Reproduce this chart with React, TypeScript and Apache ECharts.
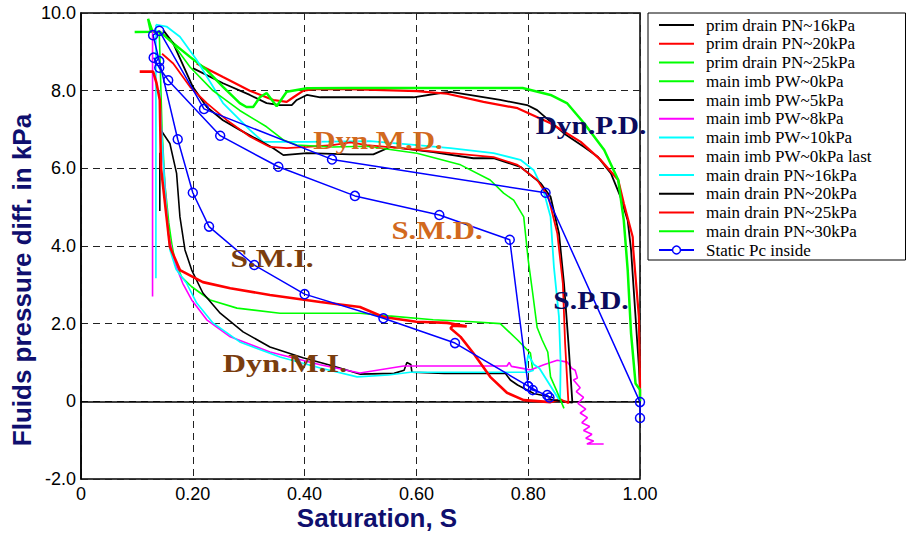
import React, { useEffect, useRef } from "react";
import * as echarts from "echarts";

type P = [number, number | string];

const seriesNames = [
  "prim drain PN~16kPa",
  "prim drain PN~20kPa",
  "prim drain PN~25kPa",
  "main imb PW~0kPa",
  "main imb PW~5kPa",
  "main imb PW~8kPa",
  "main imb PW~10kPa",
  "main imb PW~0kPa last",
  "main drain PN~16kPa",
  "main drain PN~20kPa",
  "main drain PN~25kPa",
  "main drain PN~30kPa",
  "Static Pc inside",
];

const seriesColors = [
  "#000000", "#ff0000", "#00ff00", "#00ff00", "#000000", "#ff00ff", "#00ffff",
  "#ff0000", "#00ffff", "#000000", "#ff0000", "#00ff00", "#0000ff",
];

const seriesWidths = [1.8, 2.2, 2.5, 1.6, 1.6, 1.6, 1.6, 2.6, 1.8, 1.8, 1.8, 1.6, 1.5];

const primDrain16: P[] = [
  [1.0, 0.0], [1.0, 0.3], [0.998, 0.89], [0.992, 2.18], [0.984, 3.9], [0.978, 4.66],
  [0.965, 5.27], [0.948, 5.87], [0.925, 6.29], [0.9, 6.55], [0.864, 6.9], [0.816, 7.5],
  [0.798, 7.63], [0.75, 7.76], [0.661, 7.97], [0.643, 7.94], [0.595, 7.83], [0.482, 7.83],
  [0.428, 7.83], [0.404, 7.89], [0.386, 7.76], [0.377, 7.63], [0.356, 7.63], [0.332, 7.68],
  [0.302, 7.89], [0.254, 8.19], [0.2, 8.58],
];

const primDrain20: P[] = [
  [1.0, 0.0], [1.0, 0.46], [0.998, 2.18], [0.988, 3.9], [0.987, 4.23], [0.971, 5.1],
  [0.961, 5.7], [0.93, 6.21], [0.894, 6.68], [0.84, 7.16], [0.781, 7.55], [0.72, 7.71],
  [0.655, 7.92], [0.601, 7.99], [0.482, 8.04], [0.416, 8.04], [0.398, 8.0], [0.38, 7.83],
  [0.368, 7.71], [0.344, 7.76], [0.302, 8.0], [0.254, 8.35], [0.207, 8.7],
];

const primDrain25: P[] = [
  [1.0, 0.0], [1.0, 0.3], [0.992, 0.46], [0.984, 1.75], [0.978, 3.38], [0.971, 4.66],
  [0.961, 5.7], [0.936, 6.47], [0.9, 7.16], [0.87, 7.67], [0.84, 7.89], [0.79, 8.07],
  [0.738, 8.07], [0.62, 8.07], [0.482, 8.07], [0.404, 8.06], [0.368, 7.97], [0.35, 7.6],
  [0.332, 7.94], [0.32, 7.83], [0.308, 7.58], [0.296, 7.58], [0.284, 7.68], [0.254, 8.1],
  [0.225, 8.53], [0.195, 8.87], [0.165, 9.22], [0.141, 9.52], [0.125, 9.52], [0.12, 9.85],
  [0.128, 9.52], [0.096, 9.51],
];

const mainImb0: P[] = [
  [0.14, 9.5], [0.143, 8.0], [0.145, 7.0], [0.15, 5.6], [0.157, 4.6], [0.163, 4.0],
  [0.168, 3.63], [0.18, 3.2], [0.198, 2.95], [0.231, 2.61], [0.279, 2.4], [0.356, 2.27],
  [0.499, 2.27], [0.55, 2.2], [0.63, 2.1], [0.7, 2.05], [0.75, 2.0], [0.781, 1.58],
  [0.804, 1.24], [0.808, 0.81],
];

const mainImb5: P[] = [
  [0.144, 6.96], [0.159, 6.64], [0.171, 5.87], [0.177, 4.75], [0.186, 3.9], [0.198, 3.38],
  [0.218, 2.79], [0.249, 2.27], [0.29, 1.79], [0.338, 1.4], [0.397, 1.12], [0.451, 0.91],
  [0.5, 0.7], [0.56, 0.72], [0.578, 0.8], [0.583, 1.0], [0.59, 0.95], [0.592, 0.75],
  [0.65, 0.72], [0.759, 0.72], [0.768, 0.55], [0.781, 0.42], [0.81, 0.2], [0.845, 0.09],
  [0.141, "-"], [0.141, 6.4], [0.141, 4.9],
];

const mainImb8: P[] = [
  [0.128, 9.55], [0.128, 2.7], [0.13, "-"], [0.14, 8.0], [0.148, 6.0], [0.156, 4.32],
  [0.168, 3.56], [0.182, 3.04], [0.198, 2.61], [0.225, 2.1], [0.267, 1.66], [0.338, 1.27],
  [0.428, 0.94], [0.499, 0.73], [0.577, 0.91], [0.762, 0.91], [0.766, 1.0], [0.77, 0.9],
  [0.804, 0.81], [0.828, 0.94], [0.852, 1.06], [0.87, 1.01], [0.878, 0.85], [0.884, 0.8],
  [0.888, 0.6], [0.881, 0.55], [0.893, 0.35], [0.886, 0.25], [0.899, 0.1], [0.889, -0.05],
  [0.903, -0.2], [0.893, -0.3], [0.906, -0.42], [0.896, -0.55], [0.91, -0.65],
  [0.899, -0.75], [0.914, -0.85], [0.903, -0.95], [0.917, -1.02], [0.905, -1.1],
  [0.935, -1.1],
];

const mainImb10: P[] = [
  [0.134, 9.7], [0.134, 3.17], [0.136, "-"], [0.14, 8.0], [0.15, 5.5], [0.159, 3.9],
  [0.17, 3.4], [0.189, 3.04], [0.207, 2.53], [0.236, 2.02], [0.284, 1.53], [0.356, 1.14],
  [0.428, 0.86], [0.494, 0.63], [0.55, 0.68], [0.589, 0.75], [0.799, 0.75], [0.81, 0.8],
];

const mainImb0Last: P[] = [
  [0.105, 8.49], [0.129, 8.49], [0.135, 8.2], [0.141, 7.76], [0.143, 6.03], [0.153, 4.75],
  [0.159, 3.98], [0.177, 3.38], [0.218, 3.07], [0.267, 2.91], [0.338, 2.74], [0.428, 2.56],
  [0.499, 2.43], [0.541, 2.17], [0.6, 2.05], [0.655, 2.02], [0.672, 1.98], [0.69, 1.93],
  [0.665, 1.95], [0.661, 1.88], [0.679, 1.66], [0.702, 1.24], [0.732, 0.63], [0.762, 0.22],
  [0.792, 0.03], [0.84, -0.02], [0.858, 0.05],
];

const mainDrain16: P[] = [
  [0.795, 0.78], [0.8, 1.2], [0.81, 0.95], [0.82, 0.85], [0.857, 0.0], [0.858, 1.0],
  [0.855, 2.18], [0.846, 3.46], [0.84, 4.75], [0.827, 5.44], [0.81, 5.95], [0.786, 6.22],
  [0.738, 6.39], [0.661, 6.52], [0.601, 6.6], [0.517, 6.7], [0.404, 6.68], [0.326, 6.68],
  [0.302, 6.99], [0.254, 7.68], [0.207, 8.79], [0.177, 9.39], [0.153, 9.65], [0.134, 9.7],
];

const mainDrain20: P[] = [
  [0.835, 0.05], [0.879, -0.03], [0.872, 1.5], [0.864, 3.04], [0.855, 4.33], [0.84, 5.27],
  [0.822, 5.62], [0.786, 6.04], [0.738, 6.26], [0.702, 6.26], [0.63, 6.42], [0.553, 6.55],
  [0.523, 6.36], [0.482, 6.36], [0.404, 6.39], [0.362, 6.34], [0.344, 6.52], [0.284, 6.99],
  [0.254, 7.24], [0.225, 7.58], [0.2, 8.1], [0.165, 9.22], [0.147, 9.56],
];

const mainDrain25: P[] = [
  [0.858, 0.05], [0.872, -0.05], [0.866, 1.5], [0.862, 3.04], [0.852, 4.33], [0.836, 5.27],
  [0.816, 5.7], [0.781, 6.09], [0.738, 6.29], [0.661, 6.39], [0.571, 6.52], [0.511, 6.6],
  [0.482, 6.67], [0.45, 6.6], [0.404, 6.55], [0.368, 6.52], [0.338, 6.55], [0.302, 6.82],
  [0.261, 7.24], [0.225, 7.68], [0.195, 8.1], [0.165, 8.7], [0.145, 8.95],
];

const mainDrain30: P[] = [
  [0.864, -0.18], [0.85, 0.3], [0.84, 0.63], [0.835, 1.27], [0.825, 1.58], [0.816, 1.9],
  [0.808, 2.79], [0.8, 3.64], [0.792, 4.75], [0.774, 5.18], [0.756, 5.36], [0.732, 5.7],
  [0.679, 6.09], [0.601, 6.39], [0.511, 6.57], [0.45, 6.55], [0.386, 6.6], [0.362, 6.73],
  [0.332, 7.07], [0.284, 7.49], [0.236, 8.0], [0.195, 8.61], [0.16, 9.3], [0.141, 9.5],
];

const staticPc: P[] = [
  [1.0, -0.43], [1.0, -0.02], [0.831, 5.37], [0.449, 6.23], [0.22, 7.53], [0.14, 9.54],
  [0.129, 9.43], [0.14, 8.76], [0.173, 6.75], [0.2, 5.37], [0.229, 4.5], [0.31, 3.51],
  [0.4, 2.76], [0.541, 2.14], [0.669, 1.5], [0.8, 0.39], [0.808, 0.29], [0.834, 0.16],
  [0.838, 0.1], [0.8, 0.39], [0.767, 4.16], [0.641, 4.8], [0.49, 5.29], [0.353, 6.04],
  [0.249, 6.84], [0.156, 8.27], [0.14, 8.59], [0.13, 8.85],
];

const seriesData: P[][] = [
  primDrain16, primDrain20, primDrain25, mainImb0, mainImb5, mainImb8, mainImb10,
  mainImb0Last, mainDrain16, mainDrain20, mainDrain25, mainDrain30, staticPc,
];

const xTicks = [0, 0.2, 0.4, 0.6, 0.8, 1.0];
const yTicks = [-2, 0, 2, 4, 6, 8, 10];

const annotations = [
  { text: "Dyn.M.D.", x: 378, y: 140, color: "#d2691e", sx: 1.19 },
  { text: "S.M.D.", x: 437, y: 230, color: "#d2691e", sx: 1.18 },
  { text: "Dyn.P.D.", x: 591, y: 125, color: "#0b0b5e", sx: 1.13 },
  { text: "S.P.D.", x: 591, y: 300, color: "#0b0b5e", sx: 1.14 },
  { text: "S.M.I.", x: 272, y: 258, color: "#7a3d0e", sx: 1.21 },
  { text: "Dyn.M.I.", x: 285, y: 363, color: "#7a3d0e", sx: 1.24 },
];

export default function App() {
  const ref = useRef<HTMLDivElement>(null);
  useEffect(() => {
    document.body.style.margin = "0";
    const chart = echarts.init(ref.current!, null, { renderer: "svg" });
    const lastIdx = seriesNames.length - 1;
    const hollow = "rgba(255,255,255,0)";
    const series: any[] = seriesNames.map((name, i) => {
      const isStatic = i === lastIdx;
      return {
        name,
        type: "line",
        data: seriesData[i],
        symbol: isStatic ? "circle" : "none",
        symbolSize: 9,
        showAllSymbol: true,
        connectNulls: false,
        lineStyle: { color: seriesColors[i], width: seriesWidths[i] },
        itemStyle: isStatic
          ? { color: hollow, borderColor: seriesColors[i], borderWidth: 1.5 }
          : { color: seriesColors[i] },
        z: isStatic ? 5 : 2,
      };
    });
    const legendData = seriesNames.map((name, i) =>
      i === lastIdx
        ? {
            name,
            itemStyle: { opacity: 1, color: "#ffffff", borderColor: "#0000ff", borderWidth: 1.5 },
          }
        : { name, itemStyle: { opacity: 0 } }
    );
    const option: any = {
      animation: false,
      backgroundColor: "#ffffff",
      grid: {
        left: 81, right: 270, top: 13, bottom: 61,
        show: true, borderColor: "#000", borderWidth: 1.5, backgroundColor: "transparent",
      },
      xAxis: {
        type: "value",
        min: xTicks[0],
        max: xTicks[xTicks.length - 1],
        interval: 0.2,
        axisLine: { show: true, lineStyle: { color: "#000", width: 1.5 } },
        axisTick: { show: false },
        axisLabel: {
          fontFamily: "Liberation Sans", fontSize: 18, color: "#000", margin: 6,
          formatter: (v: number) => (v === 0 ? "0" : v.toFixed(2)),
        },
        splitLine: { show: true, lineStyle: { color: "#222", type: [7, 5], width: 1 } },
      },
      yAxis: {
        type: "value",
        min: yTicks[0],
        max: yTicks[yTicks.length - 1],
        interval: 2,
        axisLine: { show: true, lineStyle: { color: "#000", width: 1.5 } },
        axisTick: { show: false },
        axisLabel: {
          fontFamily: "Liberation Sans", fontSize: 18, color: "#000", margin: 5,
          formatter: (v: number) => (v === 0 ? "0" : v.toFixed(1)),
        },
        splitLine: { show: true, lineStyle: { color: "#222", type: [7, 5], width: 1 } },
      },
      legend: {
        orient: "vertical",
        left: 648,
        top: 13,
        itemWidth: 35,
        itemHeight: 10,
        itemGap: 0.75,
        padding: [3, 34, 1, 10],
        borderColor: "#000",
        borderWidth: 1,
        backgroundColor: "#fff",
        data: legendData,
        textStyle: {
          fontFamily: "Liberation Serif", fontSize: 17, color: "#000", lineHeight: 18,
          padding: [0, 0, 0, 7],
        },
      },
      graphic: [
        {
          type: "text", x: 22, y: 280, rotation: Math.PI / 2,
          style: {
            text: "Fluids pressure diff. in kPa", font: 'bold 26px "Liberation Sans"',
            fill: "#0f0f6e", align: "center", verticalAlign: "middle",
          },
        },
        {
          type: "text", x: 377, y: 518,
          style: {
            text: "Saturation, S", font: 'bold 26px "Liberation Sans"',
            fill: "#0f0f6e", align: "center", verticalAlign: "middle",
          },
        },
        ...annotations.map((a) => ({
          type: "text", x: a.x, y: a.y, scaleX: a.sx, z: 10,
          style: {
            text: a.text, font: 'bold 26px "Liberation Serif"', fill: a.color,
            align: "center", verticalAlign: "middle",
          },
        })),
      ],
      series,
    };
    chart.setOption(option);
    return () => chart.dispose();
  }, []);
  return <div ref={ref} style={{ width: 910, height: 540 }} />;
}
